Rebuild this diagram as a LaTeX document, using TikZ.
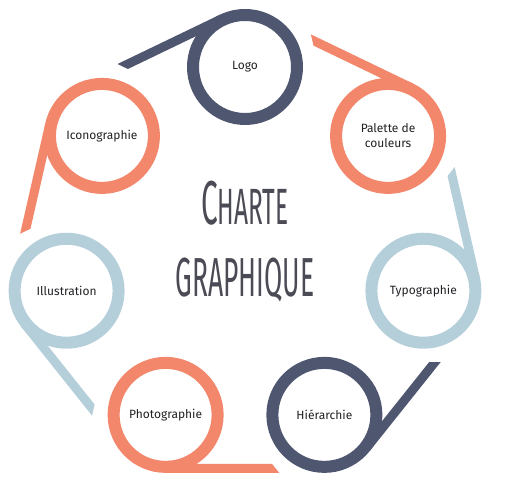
\documentclass[tikz,border=0pt]{standalone}
\usepackage{fontspec}
\setmainfont{Fira Sans}
\newfontfamily\titlefont[FakeStretch=0.48]{Fira Sans}
\usetikzlibrary{shapes,calc}

\definecolor{slate}{HTML}{4E5670}
\definecolor{salmon}{HTML}{F2876B}
\definecolor{sky}{HTML}{B5CFDA}
\definecolor{ink}{HTML}{222226}
\definecolor{titleink}{HTML}{4A4B54}

\tikzset{
  topic/.style={circle, draw=#1, line width=12pt, fill=white, minimum size=104pt,
    inner sep=0pt, align=center, text=ink, font=\fontsize{12}{15}\selectfont},
}

% tail of a circle: node, rotation, colour
\newcommand{\tail}[3]{%
  \begin{scope}[shift={(#1.center)}, rotate=#2]
    \fill[#3] (0,-58) -- (113.6,-58) -- (106.4,-49) -- (0,-49) -- cycle;
  \end{scope}}

\begin{document}
\begin{tikzpicture}[x=1pt,y=1pt]
  % \draw[step=50,thin,gray!40] (0,0) grid (505,494);
  \useasboundingbox (0,0) rectangle (505,494);
  \coordinate (hub) at (245,244);

  \node[topic=slate]  (logo)    at ($(hub)+(90:183)$)      {Logo};
  \node[topic=salmon] (palette) at ($(hub)+(38.57:183)$)   {Palette de\\couleurs};
  \node[topic=sky]    (typo)    at ($(hub)+(-12.86:183)$)  {Typographie};
  \node[topic=slate]  (hier)    at ($(hub)+(-64.29:183)$)  {Hiérarchie};
  \node[topic=salmon] (photo)   at ($(hub)+(-115.71:183)$) {Photographie};
  \node[topic=sky]    (illu)    at ($(hub)+(-167.14:183)$) {Illustration};
  \node[topic=salmon] (icono)   at ($(hub)+(141.43:183)$)  {Iconographie};

  \tail{logo}{205.71}{slate}
  \tail{palette}{154.29}{salmon}
  \tail{typo}{102.86}{sky}
  \tail{hier}{51.43}{slate}
  \tail{photo}{0}{salmon}
  \tail{illu}{-51.43}{sky}
  \tail{icono}{257.14}{salmon}

  \node[anchor=base, text=titleink, font=\titlefont] (charte) at (245,269)
    {{\fontsize{62}{62}\selectfont C}{\fontsize{51}{51}\selectfont HARTE}};
  \node[anchor=base, text=titleink, font=\titlefont] (graphique) at (245,197)
    {\fontsize{55}{55}\selectfont GRAPHIQUE};
\end{tikzpicture}
\end{document}
